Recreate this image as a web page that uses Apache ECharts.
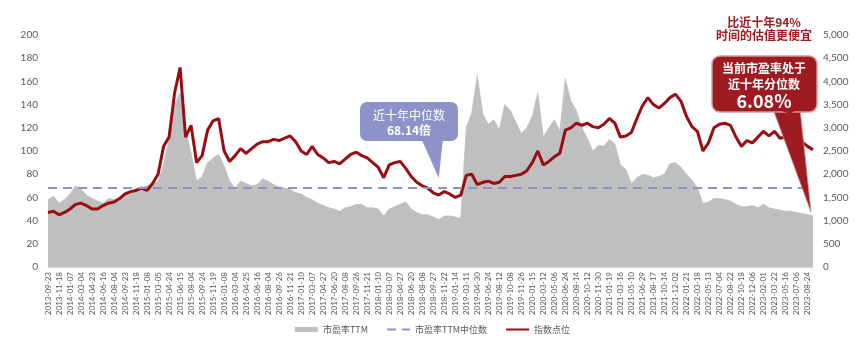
<!DOCTYPE html>
<html>
<head>
<meta charset="utf-8">
<script src="https://cdn.jsdelivr.net/npm/echarts@6/dist/echarts.min.js"></script>
<style>
  html, body { margin: 0; padding: 0; background: #fff; }
  #chart { width: 865px; height: 346px; }
</style>
</head>
<body>
<div id="chart"></div>
<script>
// Tick dates shown along the x axis
const tickLabels = [
  '2013-09-23','2013-11-18','2014-01-07','2014-03-04','2014-04-23','2014-06-16','2014-08-04','2014-09-23','2014-11-18','2015-01-08',
  '2015-03-05','2015-04-24','2015-06-15','2015-08-04','2015-09-24','2015-11-19','2016-01-08','2016-03-04','2016-04-25','2016-06-16',
  '2016-08-04','2016-09-26','2016-11-21','2017-01-10','2017-03-07','2017-04-27','2017-06-20','2017-08-08','2017-09-26','2017-11-21',
  '2018-01-10','2018-03-07','2018-04-27','2018-06-20','2018-08-08','2018-09-27','2018-11-22','2019-01-14','2019-03-11','2019-04-30',
  '2019-06-24','2019-08-12','2019-10-08','2019-11-26','2020-01-15','2020-03-12','2020-05-06','2020-06-24','2020-08-14','2020-10-12',
  '2020-11-30','2021-01-19','2021-03-16','2021-05-10','2021-06-29','2021-08-17','2021-10-14','2021-12-02','2022-01-21','2022-03-18',
  '2022-05-13','2022-07-04','2022-08-22','2022-10-18','2022-12-06','2023-02-01','2023-03-22','2023-05-16','2023-07-06','2023-08-24'
];

// Samples between consecutive tick dates, and samples after the last tick
const STEP = 2;
const TAIL = 1;

// 市盈率TTM (left axis)
const peTTM = [
  58,61,55,58,63, 70,67,62,59,57, 55,59,58,59,63, 65,67,68,70,72, 74,88,110,140,150, 118,98,74,78,90, 94,97,87,74,68, 74,72,70,71,76, 74,71,69,68,67,
  64,63,60,58,55, 53,51,50,48,51, 52,54,54,51,51, 50,44,50,52,54, 56,50,47,45,45, 43,41,44,44,43, 42,120,133,165,132, 123,127,118,140,135, 125,115,120,130,150, 112,120,
  127,117,162,143,135, 120,111,100,105,104, 110,106,88,84,72, 77,80,79,77,78, 80,89,90,86,80, 75,68,55,56,59, 59,58,57,54,52, 52,53,51,54,51, 50,49,48,48,47, 46,45,44
];

// 指数点位 (right axis)
const indexLevel = [
  1175,1200,1125,1175,1250, 1350,1375,1325,1250,1250, 1325,1375,1400,1475,1575, 1625,1650,1700,1650,1800, 2000,2600,2800,3750,4300, 2800,3050,2250,2400,2950, 3150,3200,2500,2275,2400, 2550,2450,2550,2650,2700, 2700,2750,2725,2775,2825,
  2700,2500,2425,2600,2425, 2350,2250,2275,2225,2325, 2425,2475,2400,2350,2250, 2150,1925,2200,2250,2275, 2125,1950,1825,1750,1700, 1600,1550,1625,1575,1500, 1550,1975,2000,1775,1825, 1850,1800,1825,1950,1950, 1975,2000,2075,2250,2500, 2200,2275,
  2375,2450,2950,3000,3100, 3050,3100,3025,3000,3075, 3200,3100,2800,2825,2900, 3200,3475,3650,3500,3425, 3525,3650,3725,3575,3250, 3025,2925,2500,2675,3000, 3075,3100,3050,2800,2600, 2725,2675,2800,2925,2825, 2925,2775,2800,2800,2750, 2700,2600,2525
];

// Ten-year median PE and current percentile
const peMedian = 68.14;
const pePercentile = 6.08;

// Category slots: one per sample, labelled only at the tick dates
const slotLabels = [];
tickLabels.forEach((t, i) => {
  slotLabels.push(t);
  const pad = i < tickLabels.length - 1 ? STEP - 1 : TAIL;
  for (let k = 0; k < pad; k++) slotLabels.push('');
});
const slots = slotLabels.map((_, i) => String(i));

const GRAY = '#bfbfbf';
const DARK_RED = '#980d12';
const MEDIAN_BLUE = '#8c93c9';
const CALLOUT_RED = '#9e1b22';
const AXIS_TEXT = '#595959';
const NUM_FONT = 'Lato, "Liberation Sans", sans-serif';
const CJK_FONT = '"Noto Sans CJK SC", sans-serif';

const chart = echarts.init(document.getElementById('chart'), null, { renderer: 'canvas' });

chart.setOption({
  animation: false,
  backgroundColor: '#fff',
  textStyle: { fontFamily: CJK_FONT },
  grid: { left: 48, right: 52, top: 35, bottom: 79, containLabel: false },
  legend: {
    bottom: 7,
    left: 'center',
    itemWidth: 23,
    itemHeight: 5,
    itemGap: 18,
    textStyle: { fontSize: 9, color: AXIS_TEXT, fontFamily: CJK_FONT },
    data: [
      { name: '市盈率TTM', icon: 'rect' },
      { name: '市盈率TTM中位数', itemStyle: { opacity: 0 } },
      { name: '指数点位', itemStyle: { opacity: 0 } }
    ]
  },
  xAxis: {
    type: 'category',
    data: slots,
    boundaryGap: false,
    axisTick: { show: false },
    axisLine: { show: true, lineStyle: { color: '#d9d9d9' } },
    axisLabel: {
      interval: STEP - 1,
      rotate: 90,
      margin: 5,
      fontSize: 8,
      color: AXIS_TEXT,
      fontFamily: NUM_FONT,
      formatter: (v, idx) => slotLabels[idx] || ''
    },
    splitLine: { show: false }
  },
  yAxis: [
    {
      type: 'value', min: 0, max: 200, interval: 20,
      axisLine: { show: false }, axisTick: { show: false }, splitLine: { show: false },
      axisLabel: { fontSize: 10, color: AXIS_TEXT, margin: 10, fontFamily: NUM_FONT }
    },
    {
      type: 'value', min: 0, max: 5000, interval: 500, position: 'right',
      axisLine: { show: false }, axisTick: { show: false }, splitLine: { show: false },
      axisLabel: {
        fontSize: 10, color: AXIS_TEXT, margin: 10, fontFamily: NUM_FONT,
        formatter: v => v.toLocaleString('en-US')
      }
    }
  ],
  series: [
    {
      name: '市盈率TTM',
      type: 'line',
      yAxisIndex: 0,
      data: peTTM,
      symbol: 'none',
      z: 1,
      itemStyle: { color: GRAY },
      lineStyle: { color: GRAY, width: 0.8 },
      areaStyle: { color: GRAY, opacity: 1 }
    },
    {
      name: '市盈率TTM中位数',
      type: 'line',
      yAxisIndex: 0,
      data: [],
      symbol: 'none',
      z: 3,
      itemStyle: { color: MEDIAN_BLUE },
      lineStyle: { color: MEDIAN_BLUE, width: 2, type: [9, 6] },
      markLine: {
        silent: true,
        symbol: ['none', 'none'],
        label: { show: false },
        lineStyle: { color: MEDIAN_BLUE, width: 2, type: [9, 6] },
        data: [{ yAxis: peMedian }]
      }
    },
    {
      name: '指数点位',
      type: 'line',
      yAxisIndex: 1,
      data: indexLevel,
      symbol: 'none',
      z: 4,
      itemStyle: { color: DARK_RED },
      lineStyle: { color: DARK_RED, width: 3 }
    }
  ]
});

// Callouts anchored to chart positions
const medianTip = chart.convertToPixel({ xAxisIndex: 0, yAxisIndex: 0 }, [String(71), peMedian]);
const lastIdx = peTTM.length - 1;
const endTip = chart.convertToPixel({ xAxisIndex: 0, yAxisIndex: 0 }, [String(lastIdx), peTTM[lastIdx]]);

const WHITE_TEXT = { fill: '#fff', align: 'center', verticalAlign: 'middle', fontFamily: CJK_FONT };
const cheaperShare = Math.round(100 - pePercentile);

chart.setOption({
  graphic: [
    // median callout
    { type: 'polygon', z: 50, shape: { points: [[421, 138], [443, 138], [medianTip[0], medianTip[1] - 10]] }, style: { fill: MEDIAN_BLUE } },
    { type: 'rect', z: 50, shape: { x: 360, y: 102, width: 98, height: 39, r: 7 }, style: { fill: MEDIAN_BLUE } },
    { type: 'text', z: 51, x: 409, y: 115, style: Object.assign({ text: '近十年中位数', fontSize: 12 }, WHITE_TEXT) },
    { type: 'text', z: 51, x: 409, y: 130, style: Object.assign({ text: peMedian.toFixed(2) + '倍', fontSize: 12, fontWeight: 'bold' }, WHITE_TEXT) },

    // percentile callout
    { type: 'polygon', z: 50, shape: { points: [[773, 109], [800, 109], [endTip[0] - 2, endTip[1] - 4]] }, style: { fill: CALLOUT_RED, stroke: '#c98a8d', lineWidth: 0.8 } },
    { type: 'rect', z: 50, shape: { x: 712, y: 56, width: 105, height: 56, r: 8 }, style: { fill: CALLOUT_RED, stroke: '#d49a9d', lineWidth: 1.5 } },
    { type: 'polygon', z: 50, shape: { points: [[774, 108], [799, 108], [790, 114]] }, style: { fill: CALLOUT_RED } },
    { type: 'text', z: 51, x: 764, y: 68, style: Object.assign({ text: '当前市盈率处于', fontSize: 12, fontWeight: 'bold' }, WHITE_TEXT) },
    { type: 'text', z: 51, x: 764, y: 84, style: Object.assign({ text: '近十年分位数', fontSize: 12, fontWeight: 'bold' }, WHITE_TEXT) },
    { type: 'text', z: 51, x: 764, y: 101, style: Object.assign({ text: pePercentile.toFixed(2) + '%', fontSize: 18, fontWeight: 'bold' }, WHITE_TEXT) },

    // headline
    { type: 'text', z: 51, x: 764, y: 22, style: { text: '比近十年' + cheaperShare + '%', fontSize: 12, fontWeight: 'bold', fill: '#a01c22', align: 'center', verticalAlign: 'middle', fontFamily: CJK_FONT } },
    { type: 'text', z: 51, x: 764, y: 35, style: { text: '时间的估值更便宜', fontSize: 12, fontWeight: 'bold', fill: '#a01c22', align: 'center', verticalAlign: 'middle', fontFamily: CJK_FONT } }
  ]
});
</script>
</body>
</html>
